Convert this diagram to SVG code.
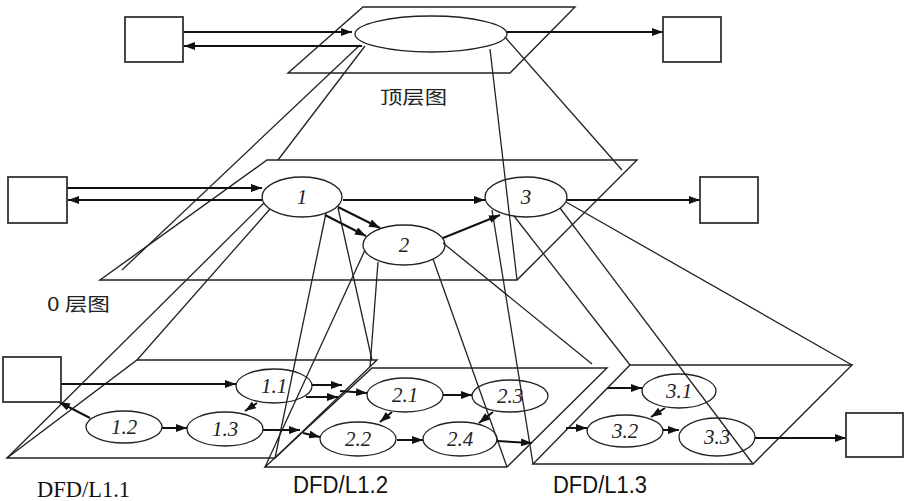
<svg xmlns="http://www.w3.org/2000/svg" width="912" height="501" viewBox="0 0 912 501">
<defs>
<marker id="ah" viewBox="0 0 10 8" refX="10" refY="4" markerWidth="11" markerHeight="8" markerUnits="userSpaceOnUse" orient="auto" preserveAspectRatio="none"><path d="M0,0 L10,4 L0,8 z" fill="#111"/></marker>
<style>
.pl{fill:none;stroke:#222;stroke-width:1.4}
.box{fill:#fff;stroke:#333;stroke-width:1.8}
.el{fill:none;stroke:#222;stroke-width:1.3}
.pj{stroke:#222;stroke-width:1.3;fill:none}
.ar{stroke:#111;stroke-width:2;fill:none;marker-end:url(#ah)}
.lb{font-family:"Liberation Serif",serif;font-style:italic;font-size:21px;fill:#222;text-anchor:middle}
.cj{font-family:"Noto Sans CJK SC","Liberation Sans",sans-serif;font-size:18px;fill:#222}
.ser{font-family:"Liberation Serif",serif;font-size:24px;fill:#111}
.san{font-family:"Liberation Sans",sans-serif;font-size:23px;fill:#111}
</style>
</defs>
<rect width="912" height="501" fill="#fff"/>

<g id="plane-top"><polygon class="pl" points="363,7 575,7 510,73 288,73"/></g>
<g id="plane-0"><polygon class="pl" points="267,160 637,160 517,280 100,280"/></g>
<g id="plane-L11"><polygon class="pl" points="137,360 377,360 275,458 7,458"/></g>
<g id="plane-L12"><polygon class="pl" points="372,368 607,368 507,467 265,467"/></g>
<g id="plane-L13"><polygon class="pl" points="630,365 852,365 753,464 533,464"/></g>

<g id="connectors">
<path class="pj" d="M360,45 L122,270"/>
<path class="pj" d="M365,46 L278,160"/>
<path class="pj" d="M505,37 L622,170"/>
<path class="pj" d="M490,49 L517,280"/>
<path class="pj" d="M264,203 L7,458"/>
<path class="pj" d="M270,209 L137,360"/>
<path class="pj" d="M326,213 L275,458"/>
<path class="pj" d="M338,208 L372,360"/>
<path class="pj" d="M365,250 L265,467"/>
<path class="pj" d="M378,262 L370,367"/>
<path class="pj" d="M433,259 L507,467"/>
<path class="pj" d="M443,243 L592,364"/>
<path class="pj" d="M492,210 L533,464"/>
<path class="pj" d="M514,216 L630,365"/>
<path class="pj" d="M560,208 L753,464"/>
<path class="pj" d="M566,202 L852,365"/>

<path class="ar" d="M183,32 H352"/>
<path class="ar" d="M362,46 H184"/>
<path class="ar" d="M507,32 H663"/>
<path class="ar" d="M67,188 H262"/>
<path class="ar" d="M262,200 H68"/>
<path class="ar" d="M343,200 H485"/>
<path class="ar" d="M338,207 L380,228"/>
<path class="ar" d="M325,215 L366,236"/>
<path class="ar" d="M443,238 L500,215"/>
<path class="ar" d="M567,200 H700"/>
<path class="ar" d="M61,384 H236"/>
<path class="ar" d="M90,418 L59,402"/>
<path class="ar" d="M162,428 H187"/>
<path class="ar" d="M257,403 L245,411"/>
<path class="ar" d="M263,430 H300"/>
<path class="ar" d="M303,433 L320,437"/>
<path class="ar" d="M312,385 H342"/>
<path class="ar" d="M306,397 H338"/>
<path class="ar" d="M340,391 L367,393"/>
<path class="ar" d="M443,395 H472"/>
<path class="ar" d="M392,412 L380,422"/>
<path class="ar" d="M397,440 H423"/>
<path class="ar" d="M493,412 L479,423"/>
<path class="ar" d="M497,441 L532,443"/>
<path class="ar" d="M566,428 H587"/>
<path class="ar" d="M607,388 H642"/>
<path class="ar" d="M665,408 L651,417"/>
<path class="ar" d="M663,430 H679"/>
<path class="ar" d="M755,438 H846"/>
</g>

<g id="ext-top-left"><rect class="box" x="125" y="17" width="58" height="45"/></g>
<g id="ext-top-right"><rect class="box" x="663" y="17" width="58" height="45"/></g>
<g id="ext-0-left"><rect class="box" x="8" y="177" width="59" height="46"/></g>
<g id="ext-0-right"><rect class="box" x="700" y="177" width="58" height="46"/></g>
<g id="ext-1-left"><rect class="box" x="3" y="357" width="58" height="45"/></g>
<g id="ext-1-right"><rect class="box" x="846" y="413" width="57" height="44"/></g>

<g id="p-top"><ellipse class="el" cx="431" cy="34" rx="76" ry="18"/></g>
<g id="p1"><ellipse class="el" cx="302" cy="197" rx="40" ry="20"/><text class="lb" x="302" y="204">1</text></g>
<g id="p2"><ellipse class="el" cx="404" cy="245" rx="41" ry="20"/><text class="lb" x="404" y="252">2</text></g>
<g id="p3"><ellipse class="el" cx="526" cy="197" rx="41" ry="20"/><text class="lb" x="526" y="204">3</text></g>
<g id="p11"><ellipse class="el" cx="274" cy="386" rx="38" ry="17"/><text class="lb" x="274" y="393">1.1</text></g>
<g id="p12"><ellipse class="el" cx="124" cy="427" rx="38" ry="16"/><text class="lb" x="124" y="434">1.2</text></g>
<g id="p13"><ellipse class="el" cx="225" cy="429" rx="38" ry="17"/><text class="lb" x="225" y="436">1.3</text></g>
<g id="p21"><ellipse class="el" cx="405" cy="395" rx="38" ry="17"/><text class="lb" x="405" y="402">2.1</text></g>
<g id="p22"><ellipse class="el" cx="358" cy="439" rx="38" ry="17"/><text class="lb" x="358" y="446">2.2</text></g>
<g id="p23"><ellipse class="el" cx="510" cy="396" rx="38" ry="16"/><text class="lb" x="510" y="403">2.3</text></g>
<g id="p24"><ellipse class="el" cx="460" cy="439" rx="37" ry="17"/><text class="lb" x="460" y="446">2.4</text></g>
<g id="p31"><ellipse class="el" cx="679" cy="391" rx="37" ry="17"/><text class="lb" x="679" y="398">3.1</text></g>
<g id="p32"><ellipse class="el" cx="625" cy="431" rx="38" ry="16"/><text class="lb" x="625" y="438">3.2</text></g>
<g id="p33"><ellipse class="el" cx="717" cy="437" rx="38" ry="19"/><text class="lb" x="717" y="444">3.3</text></g>

<g id="labels">
<text class="cj" x="380" y="104" textLength="67" lengthAdjust="spacingAndGlyphs">顶层图</text>
<text class="cj" x="47" y="311" textLength="63" lengthAdjust="spacingAndGlyphs">0 层图</text>
<text class="ser" x="37" y="497" textLength="93" lengthAdjust="spacingAndGlyphs">DFD/L1.1</text>
<text class="san" x="293" y="493" textLength="95" lengthAdjust="spacingAndGlyphs">DFD/L1.2</text>
<text class="san" x="553" y="493" textLength="94" lengthAdjust="spacingAndGlyphs">DFD/L1.3</text>
</g>
</svg>
